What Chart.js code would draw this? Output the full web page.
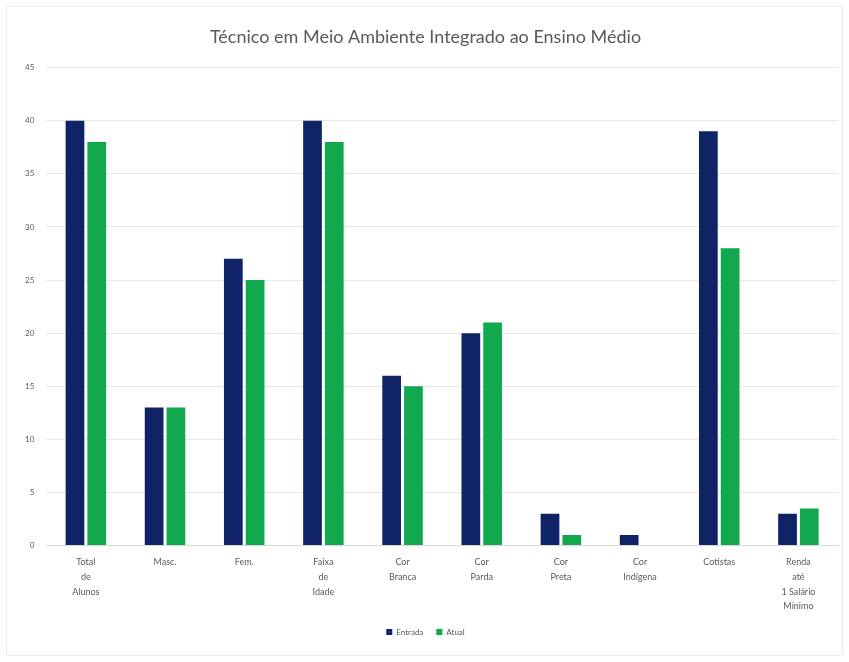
<!DOCTYPE html>
<html>
<head>
<meta charset="utf-8">
<script src="https://cdn.jsdelivr.net/npm/chart.js@4"></script>
<style>
  html, body { margin: 0; padding: 0; background: #fff; }
  #wrap { position: relative; width: 849px; height: 662px; }
  #frame { position: absolute; left: 6px; top: 6px; right: 6px; bottom: 6px; border: 1px solid #ececec; pointer-events: none; }
</style>
</head>
<body>
<div id="wrap">
  <canvas id="chart" width="849" height="662"></canvas>
  <div id="frame"></div>
</div>
<script>
const categories = [
    ["Total", "de", "Alunos"],
    "Masc.",
    "Fem.",
    ["Faixa", "de", "Idade"],
    ["Cor", "Branca"],
    ["Cor", "Parda"],
    ["Cor", "Preta"],
    ["Cor", "Indígena"],
    "Cotistas",
    ["Renda", "até", "1 Salário", "Mínimo"]
];
const seriesNames = ["Entrada", "Atual"];
const entradaValues = [40, 13, 27, 40, 16, 20, 3, 1, 39, 3];
const atualValues = [38, 13, 25, 38, 15, 21, 1, 0, 28, 3.5];
const yTicks = { min: 0, max: 45, step: 5 };

const fontFamily = "Lato, 'Open Sans', 'DejaVu Sans', sans-serif";

const ctx = document.getElementById("chart").getContext("2d");
new Chart(ctx, {
    type: "bar",
    data: {
        labels: categories,
        datasets: [
            { label: seriesNames[0], data: entradaValues, backgroundColor: "#0f2366", borderWidth: 0 },
            { label: seriesNames[1], data: atualValues, backgroundColor: "#12a84e", borderWidth: 0 }
        ]
    },
    options: {
        responsive: false,
        animation: false,
        categoryPercentage: 0.55,
        barPercentage: 0.86,
        layout: { padding: { top: 19, left: 13, right: 11, bottom: 16 } },
        plugins: {
            title: {
                display: true,
                text: "Técnico em Meio Ambiente Integrado ao Ensino Médio",
                color: "#595959",
                font: { family: fontFamily, size: 18, weight: "normal" },
                padding: { top: 7, bottom: 20 }
            },
            legend: {
                position: "bottom",
                labels: {
                    boxWidth: 6, boxHeight: 6, padding: 13,
                    color: "#595959",
                    font: { family: fontFamily, size: 8 }
                }
            },
            tooltip: { enabled: false }
        },
        scales: {
            x: {
                grid: { display: false },
                border: { display: true, color: "#d9d9d9" },
                ticks: {
                    color: "#595959",
                    font: { family: fontFamily, size: 9, lineHeight: 1.65 },
                    maxRotation: 0, autoSkip: false, padding: 1
                }
            },
            y: {
                min: yTicks.min, max: yTicks.max,
                grid: { color: "#e8e8e8", drawTicks: false },
                border: { display: false },
                ticks: {
                    stepSize: yTicks.step,
                    color: "#595959",
                    padding: 12,
                    font: { family: fontFamily, size: 8 }
                }
            }
        }
    }
});
</script>
</body>
</html>
